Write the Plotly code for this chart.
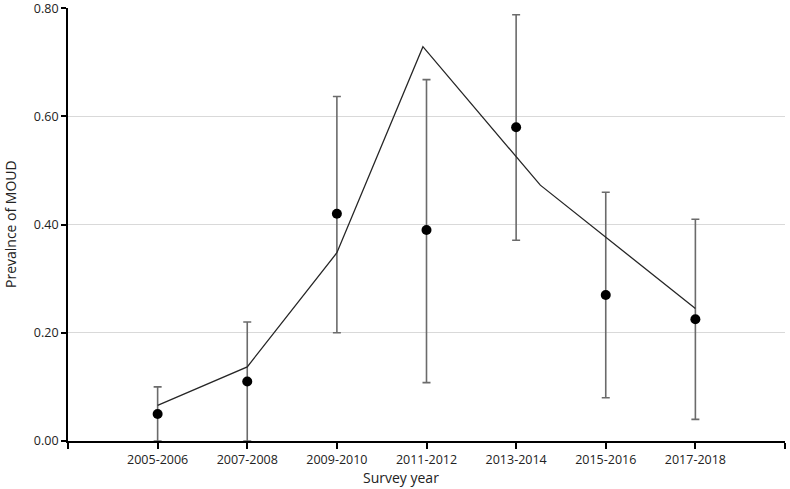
import plotly.graph_objects as go

# Survey periods (categories placed at 1..7 on the x axis)
periods = ["2005-2006", "2007-2008", "2009-2010", "2011-2012",
           "2013-2014", "2015-2016", "2017-2018"]
period_pos = [1, 2, 3, 4, 5, 6, 7]

# Observed prevalence with confidence limits
prevalence = [0.05, 0.11, 0.42, 0.39, 0.58, 0.27, 0.225]
ci_upper = [0.10, 0.22, 0.637, 0.668, 0.788, 0.46, 0.41]
ci_lower = [0.00, 0.00, 0.20, 0.108, 0.371, 0.08, 0.04]

# Modelled trend line
trend_x = [1, 2, 3, 3.96, 5.27, 7]
trend_y = [0.066, 0.137, 0.348, 0.729, 0.473, 0.245]

y_ticks = [0.0, 0.2, 0.4, 0.6, 0.8]

err_plus = [u - p for u, p in zip(ci_upper, prevalence)]
err_minus = [p - l for p, l in zip(prevalence, ci_lower)]

fig = go.Figure()

fig.add_trace(go.Scatter(
    x=period_pos, y=prevalence, mode="markers",
    marker=dict(color="black", size=10),
    error_y=dict(type="data", array=err_plus, arrayminus=err_minus,
                 color="#6b6b6b", thickness=1.6, width=4),
    showlegend=False,
))

fig.add_trace(go.Scatter(
    x=trend_x, y=trend_y, mode="lines",
    line=dict(color="#262626", width=1.3),
    showlegend=False,
))

font_family = "Open Sans, Liberation Sans, sans-serif"

fig.update_layout(
    width=790, height=489,
    margin=dict(l=68, r=5, t=8, b=48),
    plot_bgcolor="white", paper_bgcolor="white",
    font=dict(family=font_family, color="#222222", size=12),
)

fig.update_xaxes(
    range=[0, 8],
    tickvals=[0] + period_pos + [8],
    ticktext=[""] + periods + [""],
    ticks="outside", ticklen=6, tickcolor="black", tickwidth=1.5,
    showline=True, linecolor="black", linewidth=1.8,
    showgrid=False, zeroline=False,
    tickfont=dict(size=12.5),
    automargin=False, ticklabeloverflow="allow",
)

fig.update_yaxes(
    range=[0, 0.8005],
    tickvals=y_ticks,
    tickformat=".2f",
    ticks="outside", ticklen=5, tickcolor="black", tickwidth=1.5,
    showline=True, linecolor="black", linewidth=1.8,
    showgrid=True, gridcolor="#d9d9d9", gridwidth=1.2,
    zeroline=False,
    tickfont=dict(size=12.5),
    automargin=False, ticklabeloverflow="allow",
)

# Axis titles placed as annotations to keep the plot area fixed
fig.add_annotation(
    text="Survey year", xref="paper", yref="paper",
    x=0.464, y=0, yshift=-25, yanchor="top", showarrow=False,
    font=dict(size=14),
)
fig.add_annotation(
    text="Prevalnce of MOUD", xref="paper", yref="paper",
    x=0, xshift=-46, y=0.5, textangle=-90, xanchor="right",
    showarrow=False, font=dict(size=14),
)

# drop the default page margin so the figure sits at the window's corner
fig.write_html("out.html", config={"displayModeBar": False},
               post_script="document.body.style.margin='0';")
